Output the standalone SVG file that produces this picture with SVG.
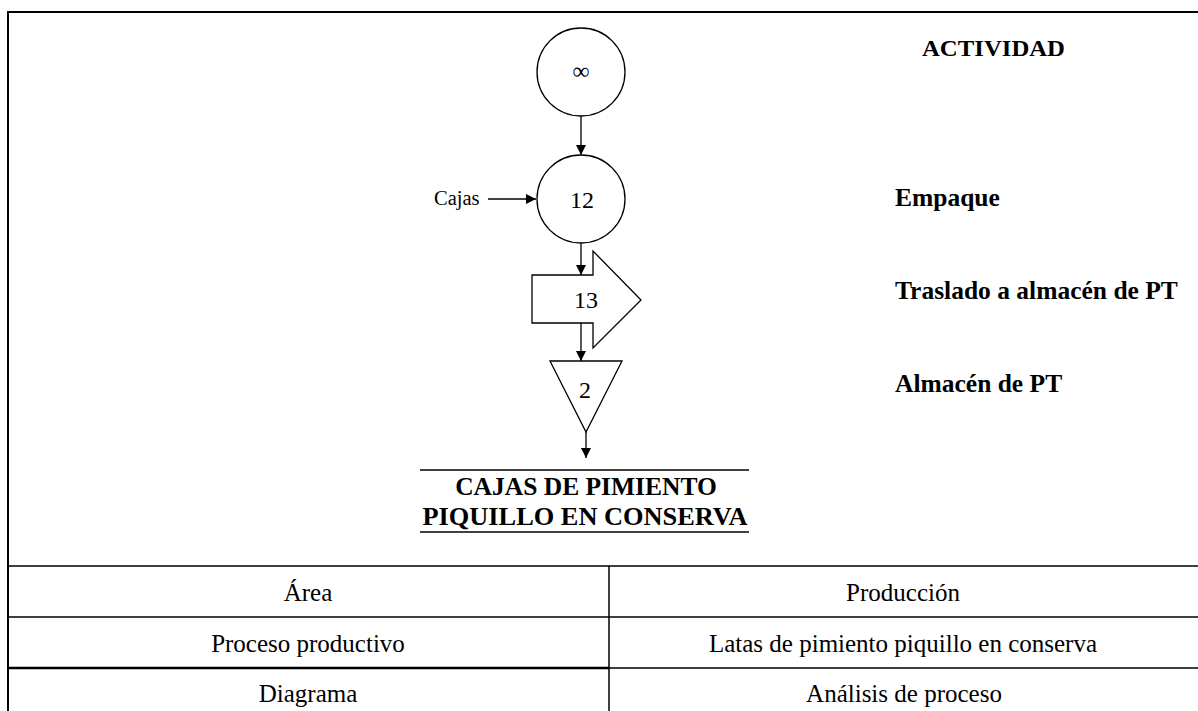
<svg xmlns="http://www.w3.org/2000/svg" width="1198" height="711" viewBox="0 0 1198 711">
<style>
.shape{fill:#fff;stroke:#000;stroke-width:1.3}
.conn{stroke:#000;stroke-width:1.3;fill:none}
.t{font-family:"Liberation Serif","Times New Roman",serif;fill:#000}
.b{font-weight:bold;font-size:25.5px}
.lbl{font-size:24px;text-anchor:middle}
.ttl{font-size:25.5px;font-weight:bold;text-anchor:middle}
.cell{font-size:25px;text-anchor:middle}
.frame{stroke:#000;stroke-width:2;fill:none}
.grid{stroke:#000;stroke-width:1.5;fill:none}
</style>
<defs>
<marker id="ah" viewBox="0 0 10 10" refX="10" refY="5" markerWidth="10" markerHeight="10" markerUnits="userSpaceOnUse" orient="auto">
<path d="M0,0 L10,5 L0,10 Z" fill="#000"/>
</marker>
</defs>
<rect width="1198" height="711" fill="#fff"/>
<g id="frame">
<path class="frame" d="M8,711 V12 H1198"/>
<path class="grid" d="M8,566 H1198 M8,617 H1198 M609,668 H1198 M609,566 V711"/>
<path d="M8,668 H609" stroke="#000" stroke-width="2.5"/>
</g>
<g id="connectors">
<line class="conn" x1="581" y1="116" x2="581" y2="155" marker-end="url(#ah)"/>
<line class="conn" x1="488" y1="199" x2="536" y2="199" marker-end="url(#ah)"/>
<line class="conn" x1="581" y1="243" x2="581" y2="275" marker-end="url(#ah)"/>
<line class="conn" x1="581" y1="323" x2="581" y2="361" marker-end="url(#ah)"/>
<line class="conn" x1="586" y1="432" x2="586" y2="458" marker-end="url(#ah)"/>
</g>
<g id="node-inf">
<circle class="shape" cx="581" cy="72" r="44"/>
<text class="t lbl" x="581" y="79">∞</text>
</g>
<g id="node-12">
<circle class="shape" cx="581" cy="199" r="44"/>
<text class="t lbl" x="582" y="208">12</text>
</g>
<g id="node-cajas">
<text class="t" x="434" y="205" font-size="20.5">Cajas</text>
</g>
<g id="node-13">
<polygon class="shape" points="532,275 593,275 593,251 641,300 593,348 593,323 532,323"/>
<text class="t lbl" x="586" y="308">13</text>
</g>
<g id="node-2">
<polygon class="shape" points="550,361 622,361 586,432"/>
<text class="t lbl" x="585" y="398">2</text>
</g>
<g id="node-result">
<line class="conn" x1="420" y1="470" x2="749" y2="470"/>
<text class="t ttl" x="586" y="495">CAJAS DE PIMIENTO</text>
<text class="t ttl" x="585" y="525" textLength="325" lengthAdjust="spacingAndGlyphs">PIQUILLO EN CONSERVA</text>
<line class="conn" x1="420" y1="532" x2="749" y2="532"/>
</g>
<g id="activities">
<text class="t" x="922" y="56" font-size="24" font-weight="bold" textLength="143" lengthAdjust="spacingAndGlyphs">ACTIVIDAD</text>
<text class="t b" x="895" y="206">Empaque</text>
<text class="t b" x="895" y="299">Traslado a almacén de PT</text>
<text class="t b" x="895" y="392">Almacén de PT</text>
</g>
<g id="table">
<text class="t cell" x="308" y="601">Área</text>
<text class="t cell" x="903" y="601">Producción</text>
<text class="t cell" x="308" y="652">Proceso productivo</text>
<text class="t cell" x="903" y="652">Latas de pimiento piquillo en conserva</text>
<text class="t cell" x="308" y="702">Diagrama</text>
<text class="t cell" x="904" y="702">Análisis de proceso</text>
</g>
</svg>
